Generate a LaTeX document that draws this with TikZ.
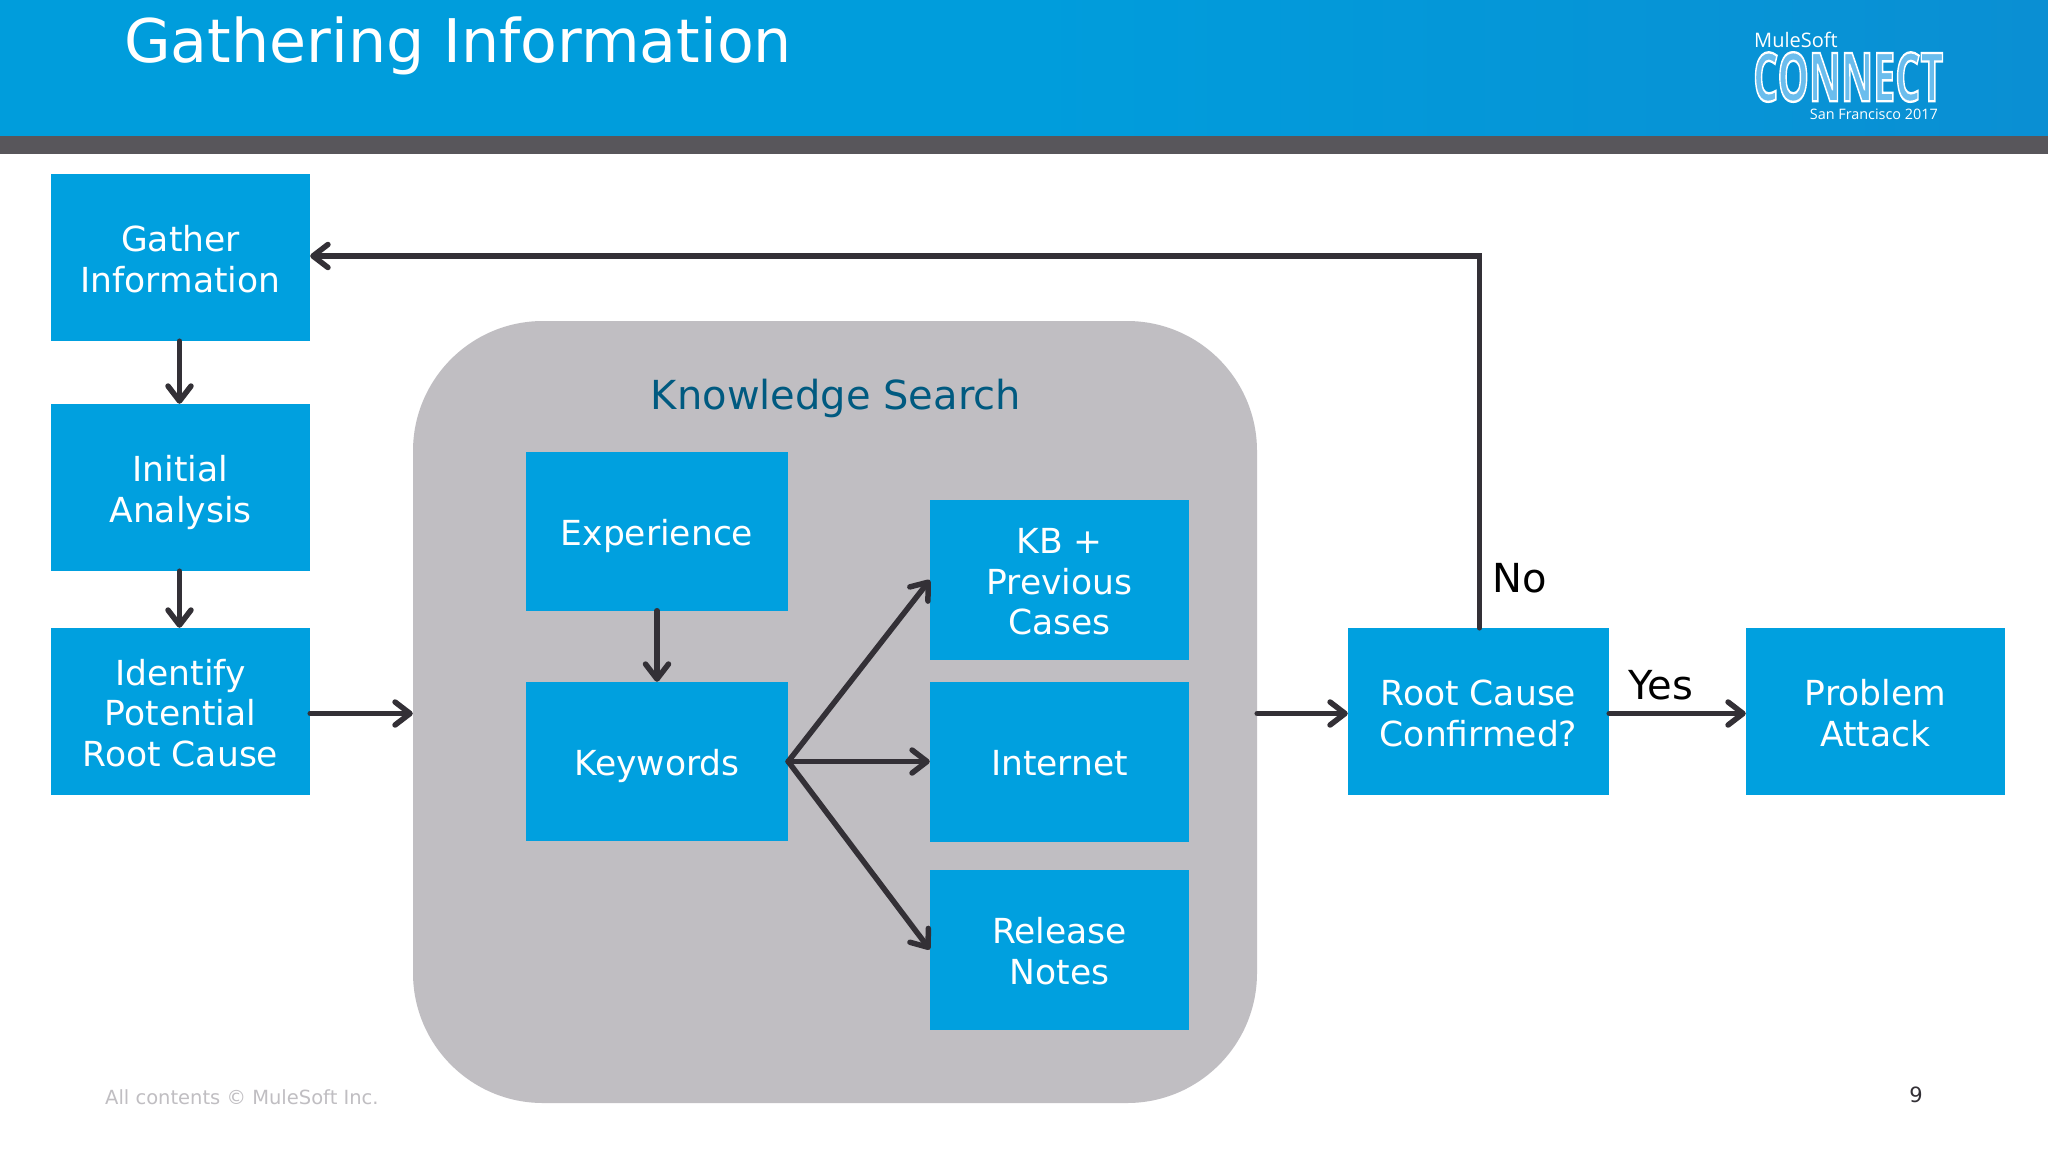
\documentclass[tikz,border=0pt]{standalone}
\usepackage{fontspec}
\usepackage{graphicx}
\setmainfont{DejaVu Sans}
\newfontfamily\logofont{Open Sans}
\usetikzlibrary{arrows.meta}
\definecolor{boxblue}{HTML}{00A0DF}
\definecolor{bandblue}{HTML}{009DDC}
\definecolor{bandblueR}{HTML}{0A8FD3}
\definecolor{bandgray}{HTML}{58565B}
\definecolor{ksgray}{HTML}{C0BEC2}
\definecolor{ink}{HTML}{333036}
\definecolor{kstext}{HTML}{005A80}
\newcommand\topln{\rule{0pt}{1.08em}}
\newcommand\botln{\rule[-.25em]{0pt}{.25em}}
\tikzset{
  box/.style={rectangle,fill=boxblue,text=white,inner sep=0pt,align=center,
    font=\fontsize{34.5}{40.5}\selectfont},
  leftbox/.style={box,minimum width=259pt,minimum height=167pt},
  midbox/.style={box,minimum width=262pt,minimum height=159pt},
  rightbox/.style={box,minimum width=259pt,minimum height=160pt},
  link/.style={draw=ink,line width=5.5pt,line cap=round,line join=miter,
    -{Straight Barb[length=15pt,width=23pt,round]}},
  lab/.style={inner sep=0pt,text=black,font=\fontsize{40}{44}\selectfont},
}
\begin{document}
\begin{tikzpicture}[x=1pt,y=-1pt]
\useasboundingbox (0,0) rectangle (2048,1152);
\fill[white] (0,0) rectangle (2048,1152);
\shade[left color=bandblue,right color=bandblueR,middle color=bandblue] (0,0) rectangle (2048,136);
\fill[bandgray] (0,136) rectangle (2048,154);
\node[anchor=base west,inner sep=0pt,text=white,font=\fontsize{60.2}{70}\selectfont] (title) at (124,62) {Gathering Information};
\node[anchor=base west,inner sep=0pt,text=white,font=\logofont\fontsize{20}{24}\selectfont] (mule) at (1754,47) {MuleSoft};
\node[anchor=north west,inner sep=0pt,text=white] (connect) at (1753,52) {\resizebox{190pt}{49pt}{\logofont\bfseries\special{pdf:code q 2 Tr 0.35 w 1 1 1 RG 0.42 0.74 0.93 rg}CONNECT\special{pdf:code Q}}};
\node[anchor=base east,inner sep=0pt,text=white,font=\logofont\fontsize{14.4}{18}\selectfont] (sf) at (1938,119) {San Francisco 2017};

\node[rectangle,rounded corners=130pt,fill=ksgray,minimum width=844pt,minimum height=782pt,inner sep=0pt] (ks) at (835,712) {};
\node[inner sep=0pt,text=kstext,font=\fontsize{40}{44}\selectfont] (kslabel) at (836,398.5) {Knowledge Search};

\node[leftbox] (gather) at (180.5,257.5) {\topln Gather\\Information\botln};
\node[leftbox] (initial) at (180.5,487.5) {\topln Initial\\Analysis\botln};
\node[leftbox] (identify) at (180.5,711.5) {\topln Identify\\Potential\\Root Cause\botln};
\node[midbox] (experience) at (657,531) {\topln Experience\botln};
\node[midbox] (keywords) at (657,761.5) {\topln Keywords\botln};
\node[rightbox] (kb) at (1059.5,580) {\topln KB +\\Previous\\Cases\botln};
\node[rightbox] (internet) at (1059.5,761.5) {\topln Internet\botln};
\node[rightbox] (release) at (1059.5,949.5) {\topln Release\\Notes\botln};
\node[midbox,minimum width=261pt,minimum height=167pt] (root) at (1478.5,711.5) {\topln Root Cause\\Confirmed?\botln};
\node[leftbox] (problem) at (1875.5,711.5) {\topln Problem\\Attack\botln};

\coordinate (rowy) at (0,713.5);
\draw[link] ([xshift=-1pt]gather.south) -- ([xshift=-1pt]initial.north);
\draw[link] ([xshift=-1pt]initial.south) -- ([xshift=-1pt]identify.north);
\draw[link] (identify.east |- rowy) -- (ks.west |- rowy);
\draw[link] (experience) -- (keywords);
\draw[link] (keywords.east) -- (kb.west);
\draw[link] (keywords.east) -- (internet.west);
\draw[link] (keywords.east) -- (release.west);
\draw[link] (ks.east |- rowy) -- (root.west |- rowy);
\draw[link] (root.east |- rowy) -- (problem.west |- rowy);
\draw[link] ([xshift=1pt]root.north) |- ([yshift=1.5pt]gather.east);

\node[lab] (no) at (1520,578) {No};
\node[lab] (yes) at (1661,685) {Yes};
\node[anchor=base west,inner sep=0pt,text=ksgray,font=\fontsize{19.5}{24}\selectfont] (foot) at (105,1104) {All contents © MuleSoft Inc.};
\node[inner sep=0pt,text=ink,font=\fontsize{21}{24}\selectfont] (page) at (1916,1095) {9};
\end{tikzpicture}
\end{document}
